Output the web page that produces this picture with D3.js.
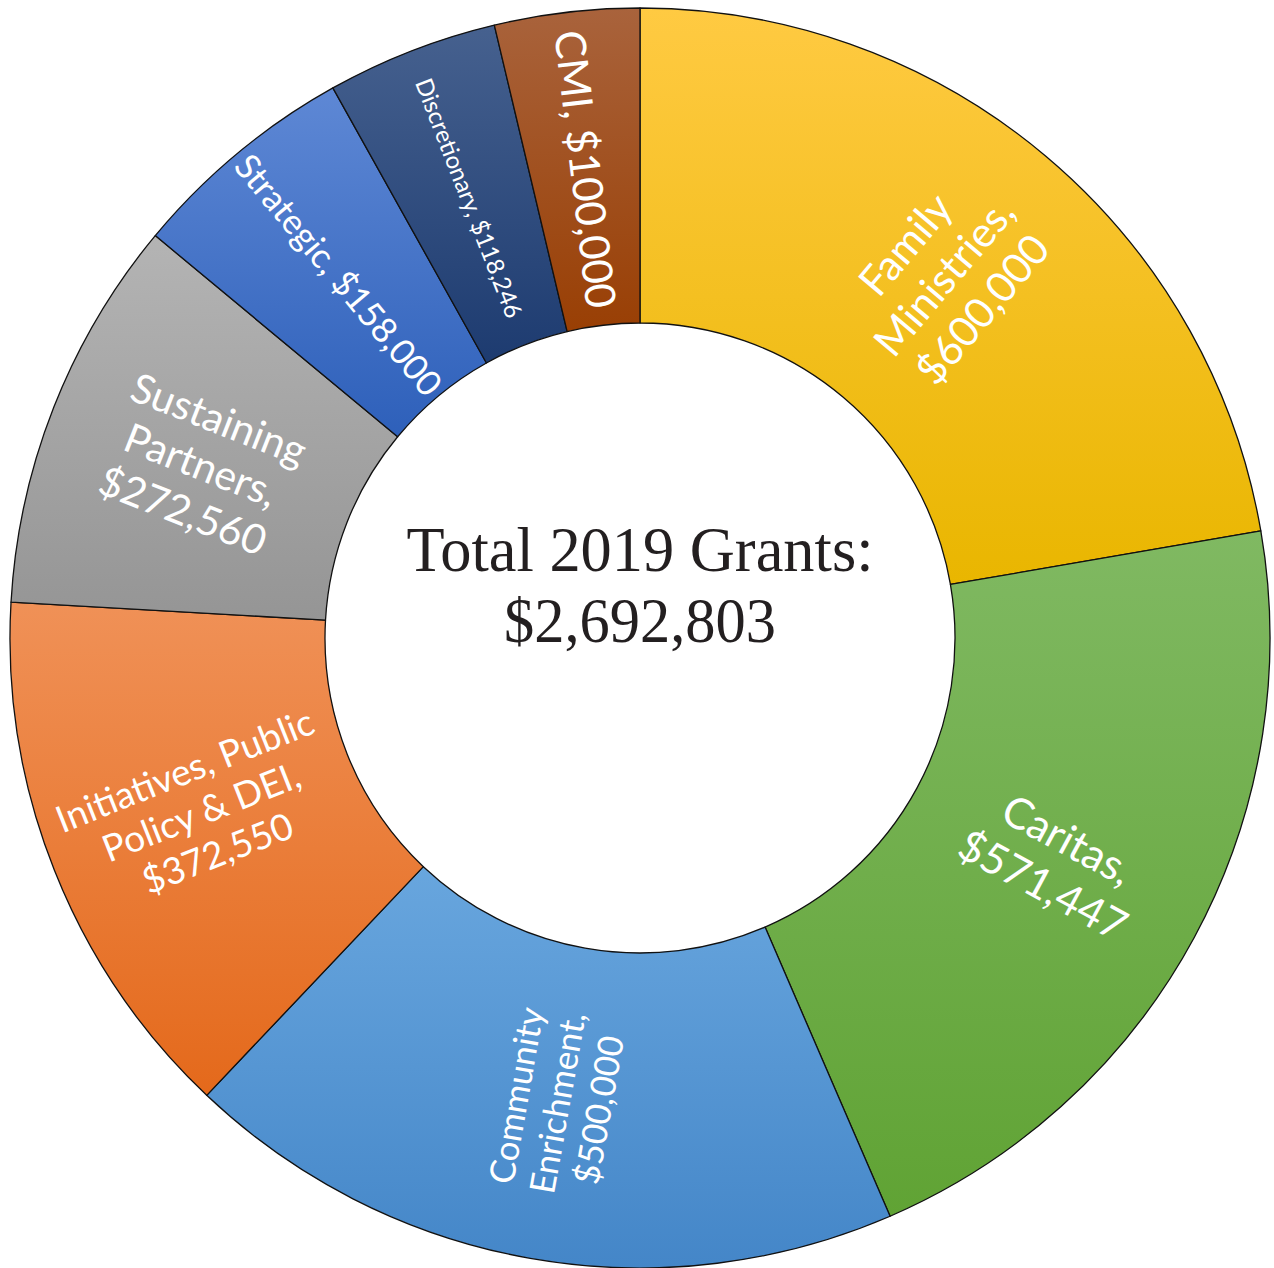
<!DOCTYPE html>
<html>
<head>
<meta charset="utf-8">
<script src="https://cdn.jsdelivr.net/npm/d3@7"></script>
<style>
  html, body { margin: 0; padding: 0; background: #fff; }
  #chart { width: 1274px; height: 1268px; }
</style>
</head>
<body>
<div id="chart"></div>
<script>
// slices, clockwise from 12 o'clock
const categories = ["Family Ministries", "Caritas", "Community Enrichment", "Initiatives, Public Policy & DEI",
                    "Sustaining Partners", "Strategic", "Discretionary", "CMI"];
const values = [600000, 571447, 500000, 372550, 272560, 158000, 118246, 100000];
// how the name part of each label wraps, and whether the value shares the last line
const nameLines = [["Family", "Ministries,"], ["Caritas,"], ["Community", "Enrichment,"],
                   ["Initiatives, Public", "Policy & DEI,"], ["Sustaining", "Partners,"],
                   ["Strategic,"], ["Discretionary,"], ["CMI,"]];
const valueInline = [false, false, false, false, false, true, true, true];
const centerTitle = "Total 2019 Grants:";

// gradient colours (top, bottom) per slice
const gradTop = ["#FFCA42", "#80B962", "#68A6DE", "#F09157", "#B4B4B4", "#5E88D5", "#46618F", "#A9633C"];
const gradBot = ["#E9B600", "#60A334", "#4486C8", "#E4691B", "#959595", "#2E60BA", "#1D3B70", "#993F04"];
const labelSize = [42, 43, 35, 37, 41, 35, 24, 42];

const W = 1274, H = 1268;
const cx = 640, cy = 638;
const rOut = 630, rIn = 315, rLabel = 472;

const fmt = d3.format("$,");
const total = d3.sum(values);

const svg = d3.select("#chart").append("svg")
    .attr("width", W)
    .attr("height", H)
    .attr("viewBox", `0 0 ${W} ${H}`);

const defs = svg.append("defs");
values.forEach((v, i) => {
    const g = defs.append("linearGradient")
        .attr("id", `grad${i}`)
        .attr("x1", 0).attr("y1", 0).attr("x2", 0).attr("y2", 1);
    g.append("stop").attr("offset", "0%").attr("stop-color", gradTop[i]);
    g.append("stop").attr("offset", "100%").attr("stop-color", gradBot[i]);
});

const pie = d3.pie().sort(null).value(d => d);
const arcs = pie(values);
const arc = d3.arc().innerRadius(rIn).outerRadius(rOut);

const g = svg.append("g").attr("transform", `translate(${cx},${cy})`);

g.selectAll("path.slice")
    .data(arcs)
    .enter().append("path")
    .attr("class", "slice")
    .attr("d", arc)
    .attr("fill", (d, i) => `url(#grad${i})`)
    .attr("stroke", "#111")
    .attr("stroke-width", 1.3)
    .attr("stroke-linejoin", "round");

// labels: text runs along the radius, reading outward on the right half, inward on the left
const labelArc = d3.arc().innerRadius(rLabel).outerRadius(rLabel);
const labels = g.selectAll("g.label")
    .data(arcs)
    .enter().append("g")
    .attr("class", "label")
    .attr("transform", d => {
        const [x, y] = labelArc.centroid(d);
        const mid = (d.startAngle + d.endAngle) / 2 * 180 / Math.PI;
        const rot = mid < 180 ? mid - 90 : mid - 270;
        return `translate(${x},${y}) rotate(${rot})`;
    });

labels.each(function(d, i) {
    const lines = nameLines[i].slice();
    const val = fmt(values[i]);
    if (valueInline[i]) lines[lines.length - 1] += " " + val;
    else lines.push(val);
    const fs = labelSize[i];
    const lh = fs * 1.2;
    const text = d3.select(this).append("text")
        .attr("text-anchor", "middle")
        .attr("fill", "#fff")
        .style("font-family", "Lato, 'Open Sans', sans-serif")
        .style("font-size", fs + "px");
    lines.forEach((ln, k) => {
        text.append("tspan")
            .attr("x", 0)
            .attr("y", (k - (lines.length - 1) / 2) * lh + fs * 0.35)
            .text(ln);
    });
});

// centre total
const center = g.append("text")
    .attr("text-anchor", "middle")
    .attr("fill", "#231f20")
    .style("font-family", "'Liberation Serif', 'DejaVu Serif', serif")
    .style("font-size", "64px");
center.append("tspan").attr("x", 0).attr("y", -67)
    .attr("textLength", 467).attr("lengthAdjust", "spacingAndGlyphs")
    .text(centerTitle);
center.append("tspan").attr("x", 0).attr("y", 4)
    .attr("textLength", 272).attr("lengthAdjust", "spacingAndGlyphs")
    .text(fmt(total));
</script>
</body>
</html>
